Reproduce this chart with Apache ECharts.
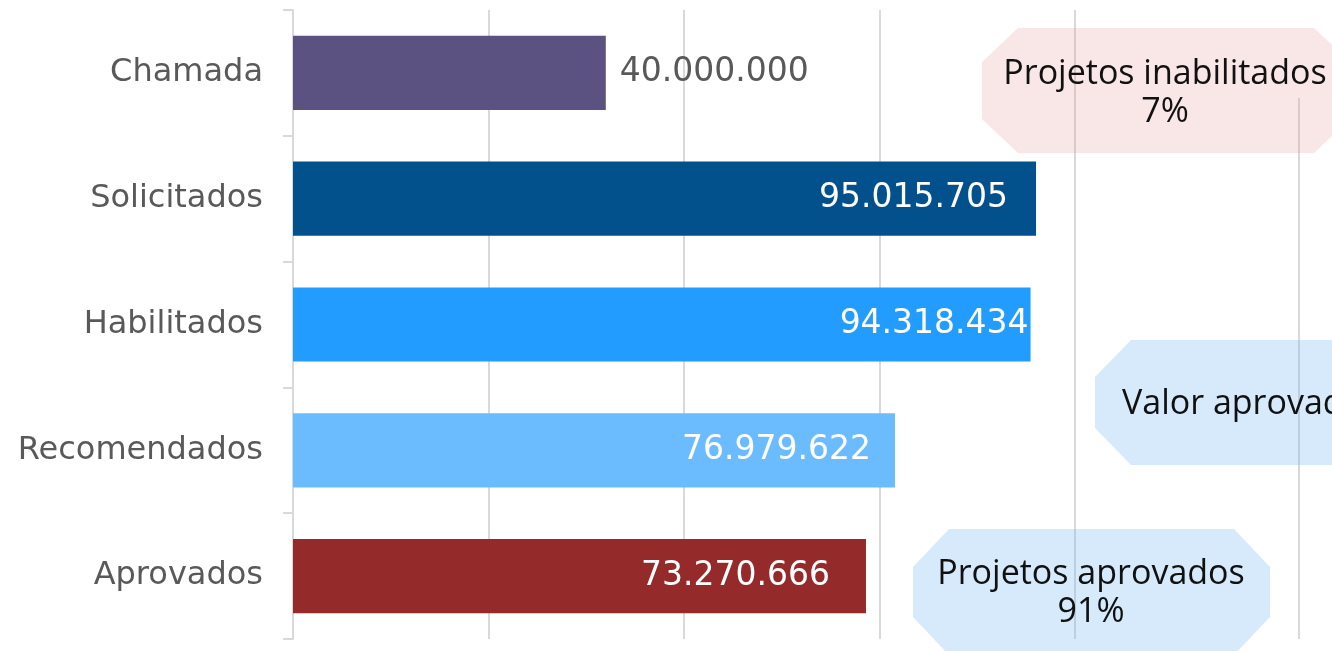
<!DOCTYPE html>
<html>
<head>
<meta charset="utf-8">
<script src="https://cdn.jsdelivr.net/npm/echarts@6/dist/echarts.min.js"></script>
<style>
	html,body{margin:0;padding:0;background:#fff;}
	#chart{width:1332px;height:651px;}
</style>
</head>
<body>
<div id="chart"></div>
<script>
// dados
var categorias = ['Chamada', 'Solicitados', 'Habilitados', 'Recomendados', 'Aprovados'];
var valores = [40000000, 95015705, 94318434, 76979622, 73270666];
var cores = ['#5c5281', '#02508c', '#229dff', '#6bbcfe', '#952a2a'];
var notas = ['Projetos inabilitados\n7%', 'Valor aprovado', 'Projetos aprovados\n91%'];

function fmt(v){
	return String(v).replace(/\B(?=(\d{3})+(?!\d))/g, '.');
}

// octogono (caixa de anotacao)
function octo(x, y, w, h, cx, cy){
	return [[x+cx,y],[x+w-cx,y],[x+w,y+cy],[x+w,y+h-cy],[x+w-cx,y+h],[x+cx,y+h],[x,y+h-cy],[x,y+cy]];
}

var fonteNum = '"DejaVu Sans", sans-serif';
var fonteNota = '"Open Sans", "Noto Sans", sans-serif';

var dados = [];
for(var i=0;i<valores.length;i++){
	var lab = {
		show:true,
		position:'insideRight',
		distance:28,
		color:'#fff',
		fontSize:33,
		fontWeight:'normal',
		fontFamily:fonteNum,
		formatter:function(p){ return fmt(p.value); }
	};
	if(i==0){
		lab.position = 'right';
		lab.distance = 14;
		lab.color = '#595959';
	}
	if(i==2) lab.distance = 2;
	if(i==3) lab.distance = 24;
	if(i==4) lab.distance = 36;
	dados.push({value:valores[i], itemStyle:{color:cores[i]}, label:lab});
}

var myChart = echarts.init(document.getElementById('chart'));
var option = {
	animation:false,
	grid:{left:293, right:257, top:10, bottom:12},
	xAxis:{
		type:'value',
		min:0,
		max:100000000,
		interval:25000000,
		axisLabel:{show:false},
		axisLine:{show:false},
		axisTick:{show:false},
		splitLine:{show:true, lineStyle:{color:'#d9d9d9', width:2}}
	},
	yAxis:{
		type:'category',
		inverse:true,
		data:categorias,
		axisLine:{show:true, lineStyle:{color:'#d9d9d9', width:2}},
		axisTick:{show:true, length:10, lineStyle:{color:'#d9d9d9', width:2}},
		axisLabel:{margin:30, color:'#595959', fontSize:32, fontWeight:'normal', fontFamily:fonteNum}
	},
	series:[{
		type:'bar',
		data:dados,
		barCategoryGap:'41%'
	}],
	graphic:[
		{type:'line', z:1, shape:{x1:1299, y1:98, x2:1299, y2:639}, style:{stroke:'#d9d9d9', lineWidth:2}},
		{type:'polygon', z:5, shape:{points:octo(982, 28, 368, 125, 36, 34)}, style:{fill:'rgba(232,160,160,0.25)'}},
		{type:'text', z:6, style:{x:1165, y:93, text:notas[0], align:'center', verticalAlign:'middle', fontSize:34, lineHeight:38, fontFamily:fonteNota, fill:'#111'}},
		{type:'polygon', z:5, shape:{points:octo(1095, 340, 300, 125, 36, 37)}, style:{fill:'rgba(120,185,245,0.3)'}},
		{type:'text', z:6, style:{x:1122, y:404, text:notas[1], align:'left', verticalAlign:'middle', fontSize:34, fontFamily:fonteNota, fill:'#111'}},
		{type:'polygon', z:5, shape:{points:octo(913, 529, 357, 126, 36, 38)}, style:{fill:'rgba(120,185,245,0.3)'}},
		{type:'text', z:6, style:{x:1091, y:593, text:notas[2], align:'center', verticalAlign:'middle', fontSize:34, lineHeight:38, fontFamily:fonteNota, fill:'#111'}}
	]
};
myChart.setOption(option);
</script>
</body>
</html>
